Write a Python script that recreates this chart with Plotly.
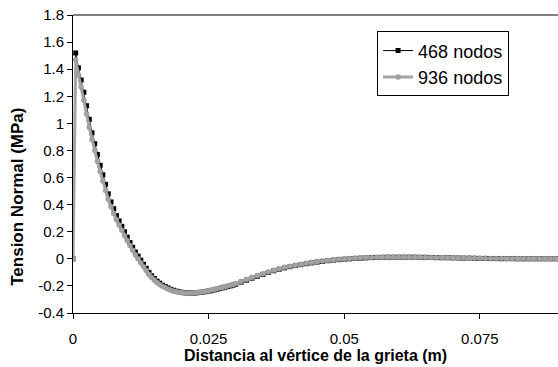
import plotly.graph_objects as go

# x positions of nodes (m)
x_nodes = [0, 0.0005, 0.001, 0.0015, 0.002, 0.0025, 0.003, 0.0035, 0.004, 0.0045,
           0.005, 0.0055, 0.006, 0.0065, 0.007, 0.0075, 0.008, 0.0085, 0.009, 0.0095,
           0.01, 0.0105, 0.011, 0.0115, 0.012, 0.0125, 0.013, 0.0135, 0.014, 0.0145,
           0.015, 0.0155, 0.016, 0.0165, 0.017, 0.0175, 0.018, 0.0185, 0.019, 0.0195,
           0.02, 0.0205, 0.021, 0.0215, 0.022, 0.0225, 0.023, 0.0235, 0.024, 0.0245,
           0.025, 0.0255, 0.026, 0.0265, 0.027, 0.0275, 0.028, 0.0285, 0.029, 0.0295,
           0.03,
           0.031, 0.032, 0.033, 0.034, 0.035, 0.036, 0.037, 0.038, 0.039, 0.04,
           0.041, 0.042, 0.043, 0.044, 0.045, 0.046, 0.047, 0.048, 0.049, 0.05,
           0.051, 0.052, 0.053, 0.054, 0.055, 0.056, 0.057, 0.058, 0.059, 0.06,
           0.061, 0.062, 0.063, 0.064, 0.065, 0.066, 0.067, 0.068, 0.069, 0.07,
           0.071, 0.072, 0.073, 0.074, 0.075, 0.076, 0.077, 0.078, 0.079, 0.08,
           0.081, 0.082, 0.083, 0.084, 0.085, 0.086, 0.087, 0.088, 0.089, 0.09]

# Tension normal (MPa), 468 nodos
y_468 = [0, 1.52, 1.41, 1.32, 1.23, 1.13, 1.03, 0.93, 0.85, 0.77,
         0.69, 0.62, 0.55, 0.48, 0.42, 0.37, 0.32, 0.28, 0.24, 0.20,
         0.16, 0.12, 0.085, 0.05, 0.02, -0.01, -0.04, -0.07, -0.10, -0.125,
         -0.145, -0.165, -0.18, -0.195, -0.205, -0.215, -0.225, -0.232, -0.238, -0.243,
         -0.247, -0.25, -0.252, -0.253, -0.253, -0.252, -0.25, -0.247, -0.245, -0.242,
         -0.238, -0.235, -0.23, -0.225, -0.22, -0.215, -0.21, -0.205, -0.2, -0.194,
         -0.188,
         -0.172, -0.158, -0.143, -0.129, -0.115, -0.101, -0.088, -0.077, -0.067, -0.058,
         -0.050, -0.043, -0.036, -0.030, -0.024, -0.019, -0.014, -0.010, -0.006, -0.003,
         0.000, 0.003, 0.005, 0.007, 0.009, 0.010, 0.011, 0.012, 0.012, 0.012,
         0.012, 0.012, 0.012, 0.011, 0.011, 0.010, 0.009, 0.008, 0.008, 0.007,
         0.006, 0.005, 0.005, 0.004, 0.003, 0.003, 0.002, 0.002, 0.001, 0.001,
         0.001, 0.000, 0.000, 0.000, 0.000, 0.000, 0.000, 0.000, 0.000, 0.000]

# Tension normal (MPa), 936 nodos
y_936 = [0, 1.47, 1.36, 1.27, 1.17, 1.07, 0.97, 0.88, 0.80, 0.72,
         0.645, 0.575, 0.505, 0.44, 0.385, 0.335, 0.29, 0.25, 0.21, 0.17,
         0.135, 0.098, 0.063, 0.03, 0.0, -0.03, -0.058, -0.087, -0.115, -0.137,
         -0.157, -0.175, -0.19, -0.202, -0.212, -0.222, -0.23, -0.237, -0.242, -0.246,
         -0.249, -0.252, -0.253, -0.254, -0.253, -0.251, -0.249, -0.246, -0.243, -0.239,
         -0.235, -0.231, -0.226, -0.221, -0.216, -0.211, -0.206, -0.2, -0.195, -0.189,
         -0.183,
         -0.167, -0.152, -0.138, -0.124, -0.11, -0.097, -0.084, -0.073, -0.063, -0.055,
         -0.047, -0.04, -0.033, -0.027, -0.021, -0.016, -0.012, -0.008, -0.004, -0.001,
         0.002, 0.005, 0.007, 0.009, 0.01, 0.011, 0.012, 0.013, 0.013, 0.013,
         0.013, 0.012, 0.012, 0.011, 0.011, 0.01, 0.009, 0.009, 0.008, 0.007,
         0.006, 0.006, 0.005, 0.004, 0.004, 0.003, 0.003, 0.002, 0.002, 0.001,
         0.001, 0.001, 0, 0, 0, 0, 0, 0, 0, 0]

series_names = ["468 nodos", "936 nodos"]

x_tickvals = [0, 0.025, 0.05, 0.075]
x_ticktext = ["0", "0.025", "0.05", "0.075"]
y_tickvals = [1.8, 1.6, 1.4, 1.2, 1.0, 0.8, 0.6, 0.4, 0.2, 0, -0.2, -0.4]
y_ticktext = ["1.8", "1.6", "1.4", "1.2", "1", "0.8", "0.6", "0.4", "0.2", "0", "-0.2", "-0.4"]

FONT = "Arial, Liberation Sans, sans-serif"

fig = go.Figure()
fig.add_trace(go.Scatter(
    x=x_nodes, y=y_468, name=series_names[0], mode="lines+markers",
    line=dict(color="black", width=1),
    marker=dict(symbol="square", size=5, color="black"),
))
fig.add_trace(go.Scatter(
    x=x_nodes, y=y_936, name=series_names[1], mode="lines+markers",
    line=dict(color="#a3a3a3", width=3),
    marker=dict(symbol="circle", size=5, color="#a3a3a3",
                line=dict(color="#929292", width=0.5)),
))

fig.update_layout(
    width=558, height=367,
    margin=dict(l=73, r=0, t=15, b=54),
    plot_bgcolor="white", paper_bgcolor="white",
    font=dict(family=FONT, color="black", size=15),
    showlegend=True,
    legend=dict(
        x=0.627, y=0.945, xanchor="left", yanchor="top",
        bordercolor="black", borderwidth=1, bgcolor="white",
        font=dict(family=FONT, size=18, color="black"),
        tracegroupgap=0,
    ),
    xaxis=dict(
        range=[0, 0.0894],
        tickvals=x_tickvals, ticktext=x_ticktext,
        ticks="outside", ticklen=5, tickcolor="black",
        showline=True, linecolor="black", linewidth=1,
        showgrid=False, zeroline=False,
        tickfont=dict(size=15),
        ticklabelstandoff=7,
        title=dict(text="<b>Distancia al vértice de la grieta (m)</b>",
                   font=dict(size=16), standoff=1),
    ),
    yaxis=dict(
        range=[-0.4, 1.8],
        tickvals=y_tickvals, ticktext=y_ticktext,
        ticks="outside", ticklen=5, tickcolor="black",
        showline=True, linecolor="black", linewidth=1,
        showgrid=False, zeroline=False,
        tickfont=dict(size=15),
    ),
    annotations=[dict(
        text="<b>Tension Normal (MPa)</b>", textangle=-90,
        xref="paper", yref="paper", x=0, y=0.39,
        xanchor="center", yanchor="middle", xshift=-55, showarrow=False,
        font=dict(family=FONT, size=17, color="black"),
    )],
    shapes=[dict(type="line", xref="paper", yref="paper", x0=0, x1=1, y0=1, y1=1,
                 line=dict(color="#7f7f7f", width=2))],
)

fig.write_html("out.html")
